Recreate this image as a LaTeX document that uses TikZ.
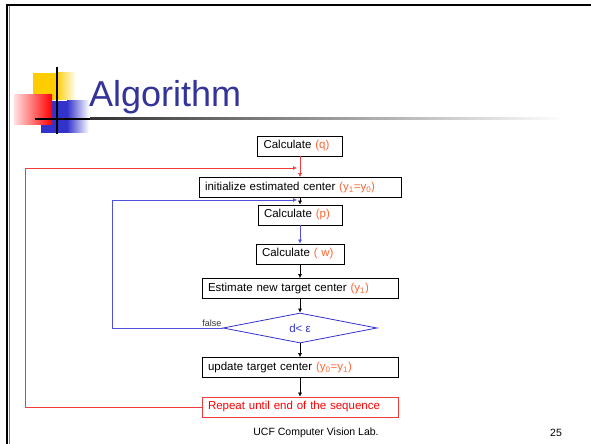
\documentclass[tikz,border=0pt]{standalone}
\usepackage{fontspec}
\setmainfont{Liberation Sans}
\usetikzlibrary{positioning,shapes.geometric,arrows.meta}
\definecolor{titleblue}{RGB}{51,51,153}
\definecolor{decoblue}{RGB}{51,51,204}
\definecolor{decoyellow}{RGB}{255,204,0}
\definecolor{hilite}{RGB}{255,102,51}
\definecolor{loopred}{RGB}{240,60,60}
\definecolor{loopblue}{RGB}{80,80,220}
\newcommand{\hl}[1]{\textcolor{hilite}{#1}}

\tikzset{
	box/.style={draw, line width=0.8bp, text width=#1, align=left, inner xsep=6bp, inner ysep=0pt,
		minimum height=20bp, font=\fontsize{11.5bp}{13bp}\selectfont},
	test/.style={diamond, draw=decoblue, line width=0.8bp, aspect=5, inner sep=0pt,
		minimum width=154bp, minimum height=30bp, text=decoblue, font=\fontsize{11.5bp}{13bp}\selectfont},
	>={Latex[length=4bp,width=4bp]},
	flow/.style={line width=0.6bp}
}

\begin{document}
\begin{tikzpicture}[x=1bp,y=-1bp,node distance=40bp,on grid]
	\useasboundingbox (0,0) rectangle (591,444);
	% slide frame
	\draw[gray, line width=1bp] (9,444) -- (9,6);
	\draw[line width=2bp] (7,444) -- (7,5) -- (591,5);
	% title decoration
	\fill[decoyellow] (33,73) rectangle (56,100);
	\shade[left color=decoyellow, right color=white] (56,73) rectangle (76,100);
	\fill[decoblue] (41,101) rectangle (67,133);
	\shade[left color=decoblue, right color=white] (67,101) rectangle (89,133);
	\shade[left color=red!12, right color=red] (14,95) rectangle (52,125);
	\draw[line width=2bp] (57,67) -- (57,134);
	\draw[line width=2bp] (35,119) -- (90,119);
	\shade[left color=black!80, right color=white] (90,118) rectangle (565,120);
	\node[anchor=base west, inner sep=0pt, text=titleblue, font=\fontsize{36bp}{40bp}\selectfont] (title) at (89,107) {Algorithm};

	\node[box=73bp] (q) at (300,146) {Calculate \hl{(q)}};
	\node[box=190bp] (init) [below=41.5bp of q] {initialize estimated center \hl{(y\textsubscript{1}=y\textsubscript{0})}};
	\node[box=72bp] (p) [below=27.5bp of init] {Calculate \hl{(p)}};
	\node[box=76bp] (w) [below=39bp of p] {Calculate \hl{( w)}};
	\node[box=184bp] (est) [below=34.5bp of w] {Estimate new target center \hl{(y\textsubscript{1})}};
	\node[test] (dec) [below=39.5bp of est] {d< ε};
	\node[box=184bp] (upd) [below=39.5bp of dec] {update target center \hl{(y\textsubscript{0}=y\textsubscript{1})}};
	\node[box=184bp, draw=loopred, text=red] (rep) [below=39.5bp of upd] {Repeat until end of the sequence};

	\coordinate (redin) at (297,168);
	\coordinate (bluein) at (297,200);

	\path[->, flow]
		(q) edge[loopred] (init)
		(init) edge (p)
		(p) edge[loopblue] (w)
		(w) edge (est)
		(est) edge (dec)
		(dec) edge (upd)
		(upd) edge (rep);
	\draw[->, flow, loopred] (rep.west) -- ++(-176,0) |- (redin);
	\draw[->, flow, loopblue] (dec.west) node[anchor=south east, inner sep=1bp, text=black!80, font=\fontsize{9bp}{10bp}\selectfont] {false} -- ++(-110,0) |- (bluein);

	\node[font=\fontsize{10.5bp}{12bp}\selectfont] (lab) at (316,433) {UCF Computer Vision Lab.};
	\node[font=\fontsize{10.5bp}{12bp}\selectfont] (page) at (556,433) {25};
\end{tikzpicture}
\end{document}
